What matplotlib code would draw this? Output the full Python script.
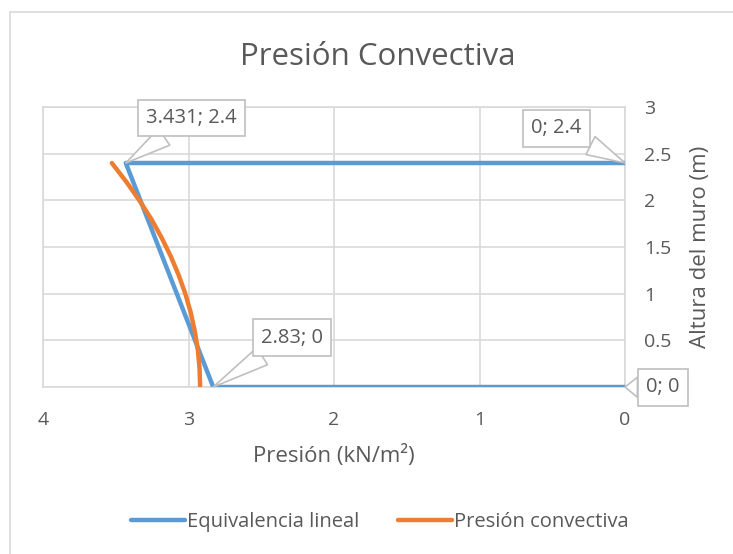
import matplotlib
matplotlib.use("Agg")
import matplotlib.pyplot as plt
from matplotlib.patches import Rectangle

plt.rcParams['font.family'] = ['Open Sans', 'DejaVu Sans']

# Linear equivalence of the convective pressure (x = pressure, y = height)
lin_x = [0, 3.431, 2.83, 0]
lin_y = [2.4, 2.4, 0, 0]

# Convective pressure distribution along the wall height
conv_y = [0.0, 0.2, 0.4, 0.6, 0.8, 1.0, 1.2, 1.4, 1.6, 1.8, 2.0, 2.2, 2.4]
conv_x = [2.920, 2.924, 2.936, 2.957, 2.985, 3.022, 3.068, 3.122, 3.185,
          3.256, 3.338, 3.428, 3.527]

x_ticks = [4, 3, 2, 1, 0]
y_ticks = [0, 0.5, 1, 1.5, 2, 2.5, 3]

BLUE = '#5B9BD5'
ORANGE = '#ED7D31'
GRID = '#D9D9D9'
TXT = '#595959'

W, H = 733, 554
fig = plt.figure(figsize=(W / 100, H / 100), dpi=100)
ax = fig.add_axes([43 / W, 1 - 387 / H, (625 - 43) / W, (387 - 107) / H])

# chart border
fig.patches.append(Rectangle((10 / W, -0.1), 1.1, 1 - 12 / H + 0.1,
                             transform=fig.transFigure, fill=False,
                             edgecolor='#D9D9D9', linewidth=1.2))

ax.plot(lin_x, lin_y, color=BLUE, linewidth=3.2, solid_capstyle='round',
        label='Equivalencia lineal', zorder=3)
ax.plot(conv_x, conv_y, color=ORANGE, linewidth=3.2, solid_capstyle='round',
        label='Presión convectiva', zorder=4)

ax.set_xlim(4, 0)
ax.set_ylim(0, 3)
ax.set_xticks(x_ticks)
ax.set_yticks(y_ticks)
ax.set_xticklabels([str(v) for v in x_ticks])
ax.set_yticklabels(['0', '0.5', '1', '1.5', '2', '2.5', '3'])
ax.yaxis.tick_right()
ax.yaxis.set_label_position('right')
ax.tick_params(axis='both', length=0, labelsize=14, labelcolor=TXT)
ax.tick_params(axis='x', pad=17)
ax.tick_params(axis='y', pad=14)
for lbl in ax.get_yticklabels():
    lbl.set_horizontalalignment('left')

ax.grid(True, color=GRID, linewidth=1.2)
ax.set_axisbelow(True)
for s in ax.spines.values():
    s.set_color(GRID)
    s.set_linewidth(1.2)

ax.set_xlabel('Presión (kN/m²)', fontsize=16, color=TXT, labelpad=12)
ax.set_ylabel('Altura del muro (m)', fontsize=16, color=TXT, labelpad=13)
fig.text(378 / W, 1 - 57 / H, 'Presión Convectiva',
         ha='center', va='center', fontsize=22.5, color=TXT)

# data callouts
box = dict(boxstyle='square,pad=0.4', facecolor='white', edgecolor='#BFBFBF',
           linewidth=1.2)
leader = dict(arrowstyle='wedge,tail_width=1.0,shrink_factor=0.5',
              facecolor='white', edgecolor='#BFBFBF', linewidth=1.2,
              shrinkA=0, shrinkB=0)
callouts = [
    (lin_x[1], lin_y[1], f'{lin_x[1]}; {lin_y[1]}', (2.98, 2.88)),
    (lin_x[0], lin_y[0], f'{lin_x[0]}; {lin_y[0]}', (0.47, 2.77)),
    (lin_x[2], lin_y[2], f'{lin_x[2]}; {lin_y[2]:g}', (2.29, 0.53)),
    (lin_x[3], lin_y[3], f'{lin_x[3]}; {lin_y[3]}', (-0.26, -0.005)),
]
for px, py, txt, pos in callouts:
    ax.annotate(txt, xy=(px, py), xytext=pos, textcoords='data',
                ha='center', va='center', fontsize=14.5, color=TXT,
                bbox=box, arrowprops=leader, annotation_clip=False, zorder=6)

leg = fig.legend(loc='center', bbox_to_anchor=(380 / W, 1 - 522 / H), ncol=2,
                 frameon=False, fontsize=14.5, handlelength=2.7,
                 handletextpad=0.1, columnspacing=1.9)
for t in leg.get_texts():
    t.set_color(TXT)

fig.savefig('out.png', dpi=100)
